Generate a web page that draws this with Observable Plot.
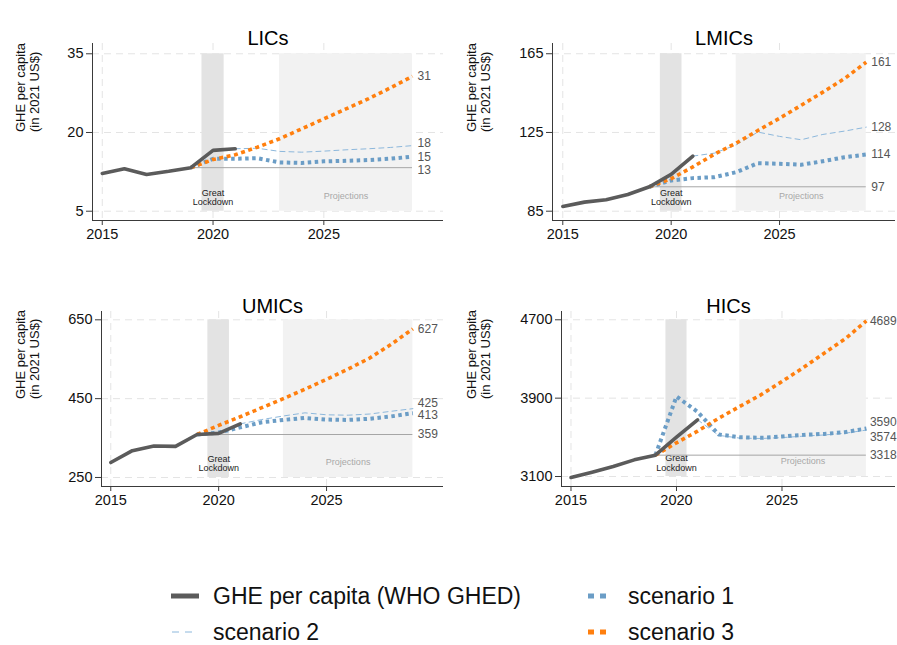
<!DOCTYPE html>
<html>
<head>
<meta charset="utf-8">
<script src="https://cdn.jsdelivr.net/npm/d3@7"></script>
<script src="https://cdn.jsdelivr.net/npm/@observablehq/plot@0.6"></script>
<style>
  body { margin: 0; background: white; }
  #chart { position: relative; width: 897px; height: 645px; background: white; font-family: "Liberation Sans", Arial, Helvetica, sans-serif; }
  #chart svg.panel { position: absolute; }
</style>
</head>
<body>
<div id="chart"></div>
<script>
// ---------------- DATA ----------------
const panelNames = ["LICs", "LMICs", "UMICs", "HICs"];
const histYears = [2015, 2016, 2017, 2018, 2019, 2020, 2021];
const scenYears = [2019, 2020, 2021, 2022, 2023, 2024, 2025, 2026, 2027, 2028, 2029];
const scen2Years = [2021, 2022, 2023, 2024, 2025, 2026, 2027, 2028, 2029];
const xTicks = [2015, 2020, 2025];

// GHE per capita (WHO GHED), 2015-2021
const histLIC  = [12.2, 13.1, 12.0, 12.6, 13.3, 16.6, 16.9];
const histLMIC = [87.4, 89.6, 90.8, 93.5, 97.4, 103.7, 113.0];
const histUMIC = [288, 318, 330, 329, 359, 362, 386];
const histHIC  = [3090, 3144, 3202, 3270, 3318, 3501, 3679];

// scenario 1, 2019-2029
const s1LIC  = [13.3, 15.0, 15.0, 15.1, 14.3, 14.2, 14.5, 14.6, 14.75, 15.0, 15.4];
const s1LMIC = [97.4, 100.6, 101.8, 102.3, 104.8, 109.4, 109.1, 108.6, 110.4, 112.4, 113.8];
const s1UMIC = [359, 364, 377, 390, 396, 401, 397, 396, 399, 405, 413];
const s1HIC  = [3318, 3917, 3760, 3529, 3501, 3495, 3508, 3525, 3535, 3553, 3590];

// scenario 2, 2021-2029
const s2LIC  = [16.9, 17.0, 16.4, 16.25, 16.45, 16.7, 16.9, 17.15, 17.5];
const s2LMIC = [113.0, 114.5, 118.7, 125.2, 123.0, 121.3, 124.0, 125.7, 127.7];
const s2UMIC = [386, 397, 406, 414, 409, 408, 411, 418, 424.6];
const s2HIC  = [3679, 3520, 3492, 3488, 3497, 3512, 3524, 3542, 3574];

// scenario 3, 2019-2029
const s3LIC  = [13.3, 14.85, 15.75, 17.2, 18.8, 20.7, 22.6, 24.5, 26.4, 28.5, 30.7];
const s3LMIC = [97.4, 101.5, 107.5, 114.0, 119.6, 126.0, 132.2, 138.8, 145.5, 152.4, 160.7];
const s3UMIC = [359, 382, 404, 427, 450, 474, 499, 525, 553, 588, 627];
const s3HIC  = [3318, 3444, 3563, 3695, 3815, 3934, 4070, 4210, 4359, 4506, 4689];

// y-axis ticks
const yTicksLIC  = [5, 20, 35];
const yTicksLMIC = [85, 125, 165];
const yTicksUMIC = [250, 450, 650];
const yTicksHIC  = [3100, 3900, 4700];

// shaded periods
const lockdownPeriod = [2019.5, 2020.5];
const projectionPeriod = [2023, 2029];

const legendLabels = ["GHE per capita (WHO GHED)", "scenario 1", "scenario 2", "scenario 3"];
const yLabel = "GHE per capita\n(in 2021 US$)";

// ---------------- STYLES ----------------
const C = {
  hist: "#5b5b5b", s1: "#6b9dc6", s2: "#8db8dc", s3: "#ff7f0e",
  base: "#a6a6a6", grid: "#e4e4e4", lock: "#e3e3e3", proj: "#f2f2f2",
  axis: "#3a3a3a", endLab: "#555555"
};
const FONT = '"Liberation Sans", Arial, Helvetica, sans-serif';

function makePanel(cfg) {
  const hist = histYears.map((x, i) => ({x, y: cfg.hist[i]}));
  const s1 = scenYears.map((x, i) => ({x, y: cfg.s1[i]}));
  const s2 = scen2Years.map((x, i) => ({x, y: cfg.s2[i]}));
  const s3 = scenYears.map((x, i) => ({x, y: cfg.s3[i]}));
  const baseVal = cfg.hist[histYears.indexOf(2019)];
  const lastX = scenYears[scenYears.length - 1];
  const ends = [
    {y: baseVal, dy: cfg.dy[0]},
    {y: cfg.s1[cfg.s1.length - 1], dy: cfg.dy[1]},
    {y: cfg.s2[cfg.s2.length - 1], dy: cfg.dy[2]},
    {y: cfg.s3[cfg.s3.length - 1], dy: cfg.dy[3]}
  ];
  const yt = cfg.yTicks;
  const yMin = yt[0], yMax = yt[yt.length - 1];
  const shades = [
    {x1: lockdownPeriod[0], x2: lockdownPeriod[1], fill: C.lock},
    {x1: projectionPeriod[0], x2: projectionPeriod[1], fill: C.proj}
  ];
  const endMarks = ends.map(e => Plot.text([e], {
    x: () => lastX, y: "y", text: d => String(Math.round(d.y)),
    textAnchor: "start", dx: cfg.endDx, dy: e.dy, fontSize: 12, fill: C.endLab
  }));
  const svg = Plot.plot({
    width: cfg.w, height: cfg.h,
    marginLeft: cfg.m[0], marginRight: cfg.m[1], marginTop: cfg.m[2], marginBottom: cfg.m[3],
    x: {domain: cfg.xDom, label: null},
    y: {domain: cfg.yDom, label: null},
    style: {fontFamily: FONT, color: "#111", background: "white", overflow: "visible"},
    marks: [
      Plot.gridY(yt, {stroke: C.grid, strokeOpacity: 1, strokeDasharray: "7,5"}),
      Plot.gridX(xTicks, {stroke: C.grid, strokeOpacity: 1, strokeDasharray: "7,5"}),
      Plot.rect(shades, {x1: "x1", x2: "x2", y1: () => yMin, y2: () => yMax, fill: "fill"}),
      Plot.text(["Great\nLockdown"], {x: () => 2020, y: () => yMin, lineAnchor: "bottom", dy: -6, fontSize: 9, fill: "#222", lineHeight: 1.05}),
      Plot.text(["Projections"], {x: () => (projectionPeriod[0] + projectionPeriod[1]) / 2, y: () => yMin, dy: -15, fontSize: 9, fill: "#a8a8a8"}),
      Plot.ruleY([baseVal], {x1: 2019, x2: lastX, stroke: C.base, strokeWidth: 1}),
      Plot.line(s2, {x: "x", y: "y", stroke: C.s2, strokeWidth: 1, strokeDasharray: "5,4"}),
      Plot.line(s1, {x: "x", y: "y", stroke: C.s1, strokeWidth: 4, strokeDasharray: "3.5,3.5", strokeLinecap: "butt"}),
      Plot.line(s3, {x: "x", y: "y", stroke: C.s3, strokeWidth: 3.6, strokeDasharray: "4,3.5", strokeLinecap: "butt"}),
      Plot.line(hist, {x: "x", y: "y", stroke: C.hist, strokeWidth: 3.6}),
      Plot.ruleX([cfg.xDom[0]], {stroke: C.axis, strokeWidth: 1}),
      Plot.ruleY([cfg.yDom[0]], {stroke: C.axis, strokeWidth: 1}),
      Plot.axisY(yt, {label: null, tickSize: 6, tickPadding: 3, fontSize: 14.5, stroke: C.axis, fill: "#111", tickFormat: d => String(d)}),
      Plot.axisX(xTicks, {label: null, tickSize: 5, tickPadding: 3, fontSize: 14.5, stroke: C.axis, fill: "#111", tickFormat: d => String(d)}),
      ...endMarks,
      Plot.text([cfg.name], {frameAnchor: "top", dy: -13, fontSize: 20, fill: "#000"}),
      Plot.text([yLabel], {frameAnchor: "left", rotate: -90, dx: cfg.ylabDx, fontSize: 13, fill: "#111", lineHeight: 1.05})
    ]
  });
  svg.classList.add("panel");
  svg.style.left = cfg.left + "px";
  svg.style.top = cfg.top + "px";
  return svg;
}

const chart = document.getElementById("chart");
const panels = [
  {name: panelNames[0], hist: histLIC, s1: s1LIC, s2: s2LIC, s3: s3LIC, yTicks: yTicksLIC,
   left: 0, top: 0, w: 448, h: 250, m: [92, 5, 43, 30],
   xDom: [2014.56, 2030.40], yDom: [3.23, 36.96], ylabDx: -65, endDx: 5, dy: [2.5, 0.5, -2, 0]},
  {name: panelNames[1], hist: histLMIC, s1: s1LMIC, s2: s2LMIC, s3: s3LMIC, yTicks: yTicksLMIC,
   left: 450, top: 0, w: 447, h: 250, m: [102, 2, 43, 30],
   xDom: [2014.525, 2030.35], yDom: [80.27, 170.2], ylabDx: -74, endDx: 5, dy: [0, 0, 0, 0]},
  {name: panelNames[2], hist: histUMIC, s1: s1UMIC, s2: s2UMIC, s3: s3UMIC, yTicks: yTicksUMIC,
   left: 0, top: 270, w: 448, h: 250, m: [101, 5, 41, 34],
   xDom: [2014.57, 2030.42], yDom: [227.1, 671.1], ylabDx: -74, endDx: 5, dy: [0, 2, -6, 0]},
  {name: panelNames[3], hist: histHIC, s1: s1HIC, s2: s2HIC, s3: s3HIC, yTicks: yTicksHIC,
   left: 450, top: 270, w: 447, h: 250, m: [111, 2, 41, 34],
   xDom: [2014.55, 2030.38], yDom: [2997.9, 4784.7], ylabDx: -83, endDx: 3.5, dy: [0, -6, 7, 0]}
];
panels.forEach(p => chart.appendChild(makePanel(p)));

// ---------------- LEGEND ----------------
const legendSwatches = [
  {stroke: C.hist, width: 5, dash: null, x1: 171, x2: 199},
  {stroke: C.s1, width: 5, dash: "6,6", x1: 588, x2: 606},
  {stroke: C.s2, width: 1, dash: "7,6", x1: 172, x2: 192},
  {stroke: C.s3, width: 5, dash: "6,6", x1: 588, x2: 606}
];
const legendPos = [{y: 596, tx: 213}, {y: 632, tx: 628}, {y: 632, tx: 213}, {y: 632, tx: 628}];
legendPos[1].y = 596;
const ns = "http://www.w3.org/2000/svg";
const lg = document.createElementNS(ns, "svg");
lg.setAttribute("width", 897); lg.setAttribute("height", 85);
lg.style.position = "absolute"; lg.style.left = "0px"; lg.style.top = "560px";
legendLabels.forEach((lab, i) => {
  const s = legendSwatches[i], p = legendPos[i];
  const ln = document.createElementNS(ns, "line");
  ln.setAttribute("x1", s.x1); ln.setAttribute("x2", s.x2);
  ln.setAttribute("y1", p.y - 560); ln.setAttribute("y2", p.y - 560);
  ln.setAttribute("stroke", s.stroke); ln.setAttribute("stroke-width", s.width);
  if (s.dash) ln.setAttribute("stroke-dasharray", s.dash);
  lg.appendChild(ln);
  const t = document.createElementNS(ns, "text");
  t.setAttribute("x", p.tx); t.setAttribute("y", p.y - 560);
  t.setAttribute("dy", "0.35em");
  t.setAttribute("font-size", "23"); t.setAttribute("font-family", FONT); t.setAttribute("fill", "#111");
  t.textContent = lab;
  lg.appendChild(t);
});
chart.appendChild(lg);
</script>
</body>
</html>
